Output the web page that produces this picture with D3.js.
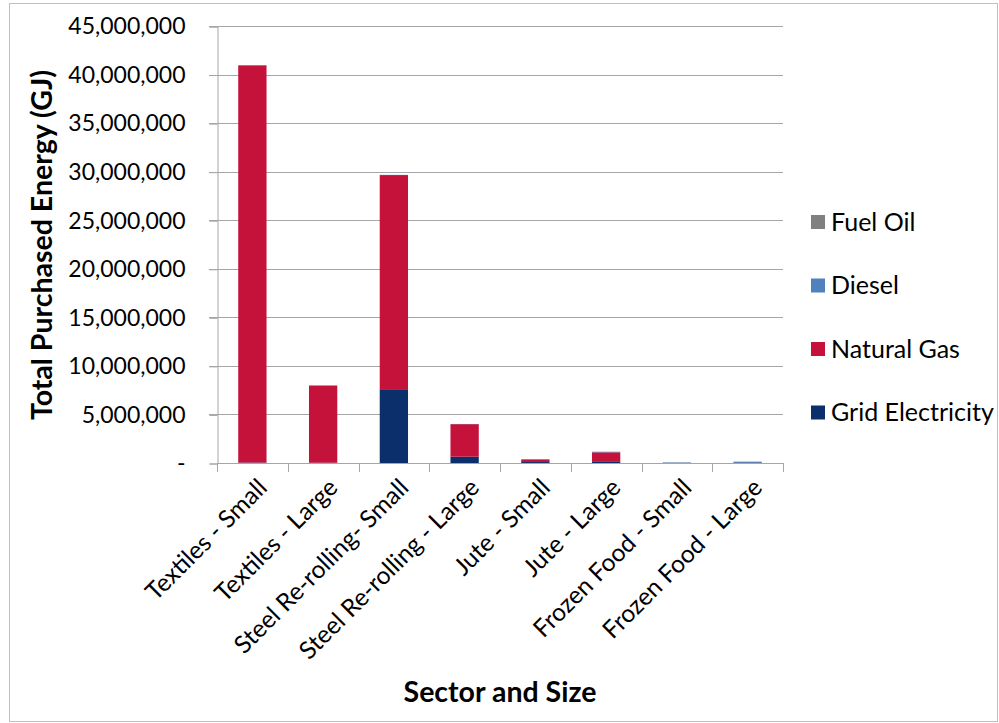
<!DOCTYPE html>
<html>
<head>
<meta charset="utf-8">
<script src="https://d3js.org/d3.v7.min.js"></script>
<style>
  body { margin: 0; background: #fff; }
  text { font-family: Lato, "Open Sans", sans-serif; fill: #000; }
</style>
</head>
<body>
<script>
// chart values
var categories = ["Textiles - Small", "Textiles - Large", "Steel Re-rolling- Small", "Steel Re-rolling - Large",
                  "Jute - Small", "Jute - Large", "Frozen Food - Small", "Frozen Food - Large"];
var gridElectricity = [50000, 30000, 7600000, 650000, 100000, 180000, 30000, 60000];
var naturalGas = [40900000, 7950000, 22050000, 3350000, 270000, 920000, 0, 0];
var diesel = [10000, 5000, 20000, 20000, 30000, 60000, 20000, 80000];
var fuelOil = [0, 0, 0, 0, 0, 0, 10000, 0];
var seriesNames = ["Grid Electricity", "Natural Gas", "Diesel", "Fuel Oil"];
var yTicks = [0, 5000000, 10000000, 15000000, 20000000, 25000000, 30000000, 35000000, 40000000, 45000000];

var colors = {"Grid Electricity": "#0b2f6b", "Natural Gas": "#c4123a", "Diesel": "#4f81bd", "Fuel Oil": "#808080"};

var W = 999, H = 723;
var plotLeft = 217, plotRight = 783, plotTop = 26, plotBottom = 463;

var svg = d3.select("body").append("svg")
  .attr("width", W).attr("height", H);

// outer chart border
svg.append("rect")
  .attr("x", 9.5).attr("y", 3.5)
  .attr("width", W - 11).attr("height", H - 5)
  .attr("fill", "none").attr("stroke", "#bfbfbf");

var x = d3.scaleBand().domain(categories).range([plotLeft, plotRight]).paddingInner(0.6).paddingOuter(0.3);
var y = d3.scaleLinear().domain([0, 45000000]).range([plotBottom, plotTop]);

var table = categories.map(function(c, i) {
  return {cat: c, "Grid Electricity": gridElectricity[i], "Natural Gas": naturalGas[i],
          "Diesel": diesel[i], "Fuel Oil": fuelOil[i]};
});

// gridlines
svg.append("g").selectAll("line")
  .data(yTicks.slice(1)).enter().append("line")
  .attr("x1", plotLeft - 8).attr("x2", plotRight)
  .attr("y1", function(d) { return Math.round(y(d)) + 0.5; })
  .attr("y2", function(d) { return Math.round(y(d)) + 0.5; })
  .attr("stroke", "#a6a6a6");

// y axis
var yAxis = svg.append("g")
  .attr("transform", "translate(" + (plotLeft + 0.5) + ",0.5)")
  .call(d3.axisLeft(y).tickValues(yTicks).tickSize(8).tickPadding(24)
    .tickFormat(function(d) { return d === 0 ? "-" : d3.format(",")(d); }));
yAxis.select(".domain").attr("stroke", "#a6a6a6");
yAxis.selectAll(".tick line").attr("stroke", "#a6a6a6");
yAxis.selectAll(".tick text").style("font-size", "23px").style("font-family", "Lato, sans-serif");

// stacked bars
var stack = d3.stack().keys(seriesNames)(table);
svg.append("g").selectAll("g")
  .data(stack).enter().append("g")
  .attr("fill", function(d) { return colors[d.key]; })
  .selectAll("rect")
  .data(function(d) { return d; }).enter().append("rect")
  .attr("x", function(d) { return x(d.data.cat); })
  .attr("width", x.bandwidth())
  .attr("y", function(d) { return y(d[1]); })
  .attr("height", function(d) { return Math.max(0, y(d[0]) - y(d[1])); });

// x axis with ticks at category boundaries
var step = (plotRight - plotLeft) / categories.length;
svg.append("line")
  .attr("x1", plotLeft).attr("x2", plotRight + 1)
  .attr("y1", plotBottom + 0.5).attr("y2", plotBottom + 0.5)
  .attr("stroke", "#a6a6a6");
svg.append("g").selectAll("line")
  .data(d3.range(categories.length + 1)).enter().append("line")
  .attr("x1", function(i) { return Math.round(plotLeft + i * step) + 0.5; })
  .attr("x2", function(i) { return Math.round(plotLeft + i * step) + 0.5; })
  .attr("y1", plotBottom).attr("y2", plotBottom + 9)
  .attr("stroke", "#a6a6a6");

svg.append("g").selectAll("text")
  .data(categories).enter().append("text")
  .attr("transform", function(d) {
    return "translate(" + (x(d) + x.bandwidth() / 2 + 4) + "," + (plotBottom + 14) + ") rotate(-45)";
  })
  .attr("text-anchor", "end")
  .attr("dy", "0.7em")
  .style("font-size", "24.5px")
  .text(function(d) { return d; });

// axis titles
svg.append("text")
  .attr("transform", "translate(52,245) rotate(-90)")
  .attr("text-anchor", "middle")
  .style("font-size", "28.5px").style("font-weight", "bold")
  .text("Total Purchased Energy (GJ)");

svg.append("text")
  .attr("x", 500).attr("y", 702)
  .attr("text-anchor", "middle")
  .style("font-size", "28.5px").style("font-weight", "bold")
  .text("Sector and Size");

// legend, top entry is the last stacked series
var legendOrder = seriesNames.slice().reverse();
var legend = svg.append("g").selectAll("g")
  .data(legendOrder).enter().append("g")
  .attr("transform", function(d, i) { return "translate(811," + (222 + i * 63.5) + ")"; });
legend.append("rect")
  .attr("x", 0).attr("y", -7).attr("width", 14).attr("height", 14)
  .attr("fill", function(d) { return colors[d]; });
legend.append("text")
  .attr("x", 20).attr("dy", "0.35em")
  .style("font-size", "25px")
  .text(function(d) { return d; });
</script>
</body>
</html>
